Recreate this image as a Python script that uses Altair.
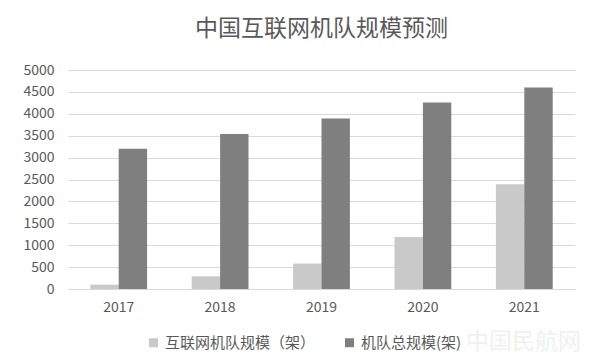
import altair as alt
import pandas as pd

years = ["2017", "2018", "2019", "2020", "2021"]
internet_fleet = [100, 290, 580, 1190, 2390]
total_fleet = [3200, 3540, 3890, 4260, 4600]
series_names = ["互联网机队规模（架）", "机队总规模(架)"]
series_colors = ["#c9c9c9", "#7f7f7f"]
y_ticks = [0, 500, 1000, 1500, 2000, 2500, 3000, 3500, 4000, 4500, 5000]
title_text = "中国互联网机队规模预测"
watermark_text = "中国民航网"

rows = []
for i, y in enumerate(years):
    rows.append({"year": y, "series": series_names[0], "value": internet_fleet[i]})
    rows.append({"year": y, "series": series_names[1], "value": total_fleet[i]})
df = pd.DataFrame(rows)

FONT = "Noto Sans CJK SC"

bars = alt.Chart(df).mark_bar().encode(
    x=alt.X("year:N", sort=years, title=None,
            scale=alt.Scale(paddingInner=0.44, paddingOuter=0.22),
            axis=alt.Axis(labelAngle=0, labelFontSize=14, labelColor="#595959",
                          labelFont=FONT, ticks=False, domain=False, grid=False,
                          labelPadding=11)),
    xOffset=alt.XOffset("series:N", sort=series_names, scale=alt.Scale(domain=series_names)),
    y=alt.Y("value:Q", title=None,
            scale=alt.Scale(domain=[0, 5000], nice=False),
            axis=alt.Axis(values=y_ticks, format="d", labelFontSize=14, labelColor="#595959",
                          labelFont=FONT, ticks=False, domain=False, labelPadding=14,
                          gridColor="#d9d9d9", gridWidth=1)),
    color=alt.Color("series:N", sort=series_names,
                    scale=alt.Scale(domain=series_names, range=series_colors),
                    legend=alt.Legend(title=None, orient="none", legendX=78, legendY=265,
                                      direction="horizontal", symbolType="square",
                                      symbolSize=81, symbolStrokeWidth=0,
                                      labelFontSize=15, labelColor="#595959",
                                      labelFont=FONT, columnPadding=26)),
)

wm = alt.Chart(pd.DataFrame({"t": [watermark_text]})).mark_text(
    fontSize=23, font=FONT, color="#f0f0f0", align="left", baseline="middle"
).encode(text="t:N", x=alt.value(398), y=alt.value(272))

chart = alt.layer(bars, wm).properties(
    width=507, height=219,
    autosize=alt.AutoSizeParams(type="none"),
    padding={"left": 68, "top": 70, "right": 25, "bottom": 75},
    title=alt.TitleParams(title_text, fontSize=23, font=FONT, color="#595959",
                          fontWeight="normal", anchor="middle", offset=22),
).configure(background="white").configure_view(stroke=None)

chart.save("out.html", embed_options={"renderer": "svg", "actions": False})
